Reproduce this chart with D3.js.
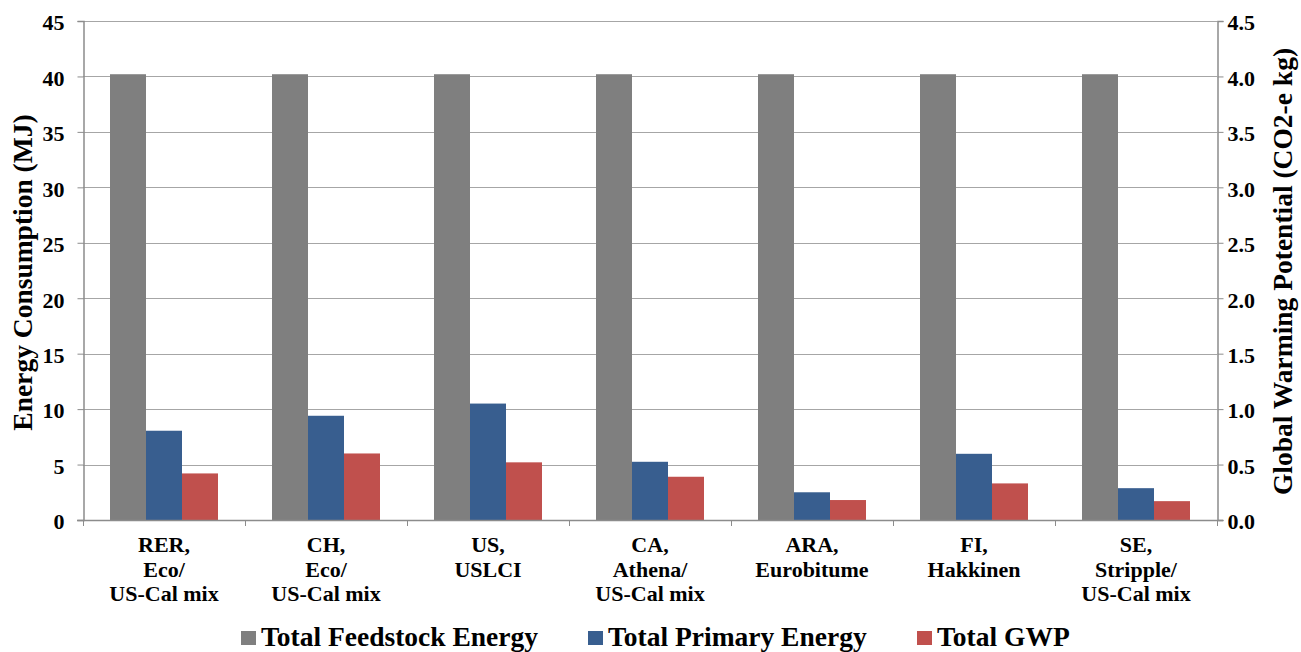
<!DOCTYPE html>
<html>
<head>
<meta charset="utf-8">
<script src="https://cdn.jsdelivr.net/npm/d3@7"></script>
<style>
  html, body { margin: 0; padding: 0; background: #fff; }
  svg { display: block; }
  text { font-family: "Liberation Serif", "Times New Roman", serif !important; font-weight: bold; fill: #000; }
</style>
</head>
<body>
<svg id="chart" width="1301" height="652"></svg>
<script>
// ---- data ----
const categories = [
  ["RER,", "Eco/", "US-Cal mix"],
  ["CH,", "Eco/", "US-Cal mix"],
  ["US,", "USLCI"],
  ["CA,", "Athena/", "US-Cal mix"],
  ["ARA,", "Eurobitume"],
  ["FI,", "Hakkinen"],
  ["SE,", "Stripple/", "US-Cal mix"]
];
const seriesNames = ["Total Feedstock Energy", "Total Primary Energy", "Total GWP"];
const feedstockEnergy = [40.2, 40.2, 40.2, 40.2, 40.2, 40.2, 40.2];   // MJ (left axis)
const primaryEnergy   = [8.05, 9.4, 10.5, 5.25, 2.5, 5.97, 2.87];     // MJ (left axis)
const totalGWP        = [0.42, 0.60, 0.52, 0.39, 0.18, 0.33, 0.17];   // CO2-e kg (right axis)
const leftTicks  = [0, 5, 10, 15, 20, 25, 30, 35, 40, 45];
const rightTicks = [0, 0.5, 1.0, 1.5, 2.0, 2.5, 3.0, 3.5, 4.0, 4.5];
const colors = ["#7f7f7f", "#385e8f", "#c0504d"];

// ---- layout ----
const svg = d3.select("#chart");
const L = 83, R = 1217, T = 21, B = 520;

const x0 = d3.scaleBand().domain(d3.range(categories.length)).range([L, R]).paddingInner(0).paddingOuter(0);
const x1 = d3.scaleBand().domain([0, 1, 2]).range([0, x0.bandwidth()]).paddingInner(0).paddingOuter(0.75);
const yL = d3.scaleLinear().domain([0, 45]).range([B, T]);
const yR = d3.scaleLinear().domain([0, 4.5]).range([B, T]);

// gridlines
svg.append("g").selectAll("line").data(leftTicks.filter(d => d > 0)).join("line")
  .attr("x1", L).attr("x2", R)
  .attr("y1", d => Math.round(yL(d)) + 0.5).attr("y2", d => Math.round(yL(d)) + 0.5)
  .attr("stroke", "#a6a6a6").attr("stroke-width", 1);

// bars
const rows = categories.map((c, i) => [feedstockEnergy[i], primaryEnergy[i], totalGWP[i]]);
const g = svg.append("g");
rows.forEach((vals, i) => {
  vals.forEach((v, s) => {
    const y = s === 2 ? yR(v) : yL(v);
    g.append("rect")
      .attr("x", x0(i) + x1(s))
      .attr("y", y)
      .attr("width", x1.bandwidth())
      .attr("height", B - y)
      .attr("fill", colors[s]);
  });
});

// left axis
const axL = svg.append("g").attr("transform", `translate(${L + 0.5},0)`)
  .call(d3.axisLeft(yL).tickValues(leftTicks).tickSize(6).tickPadding(13).tickFormat(d3.format("d")));
axL.attr("font-family", null);
axL.select(".domain").attr("stroke", "#8c8c8c").attr("stroke-width", 1.5);
axL.selectAll(".tick line").attr("stroke", "#8c8c8c");
axL.selectAll(".tick text").attr("font-size", 22).attr("fill", "#000").attr("dy", "0.4em");

// right axis
const axR = svg.append("g").attr("transform", `translate(${R + 0.5},0)`)
  .call(d3.axisRight(yR).tickValues(rightTicks).tickSize(6).tickPadding(4).tickFormat(d3.format(".1f")));
axR.attr("font-family", null);
axR.select(".domain").attr("stroke", "#8c8c8c").attr("stroke-width", 1.5);
axR.selectAll(".tick line").attr("stroke", "#8c8c8c");
axR.selectAll(".tick text").attr("font-size", 22).attr("fill", "#000").attr("dy", "0.4em");

// bottom axis line + category boundary ticks
svg.append("line").attr("x1", L - 6).attr("x2", R + 6).attr("y1", B + 0.5).attr("y2", B + 0.5)
  .attr("stroke", "#8c8c8c").attr("stroke-width", 1.5);
svg.append("g").selectAll("line").data(d3.range(categories.length + 1)).join("line")
  .attr("x1", d => Math.round(L + d * x0.bandwidth()) + 0.5)
  .attr("x2", d => Math.round(L + d * x0.bandwidth()) + 0.5)
  .attr("y1", B).attr("y2", B + 6)
  .attr("stroke", "#8c8c8c");

// category labels
categories.forEach((lines, i) => {
  const t = svg.append("text")
    .attr("x", x0(i) + x0.bandwidth() / 2)
    .attr("y", 552)
    .attr("text-anchor", "middle")
    .attr("font-size", 22);
  lines.forEach((ln, k) => {
    t.append("tspan").attr("x", x0(i) + x0.bandwidth() / 2).attr("y", 552 + k * 24.5).text(ln);
  });
});

// axis titles
svg.append("text")
  .attr("transform", `translate(32,${(T + B) / 2 + 2}) rotate(-90)`)
  .attr("text-anchor", "middle").attr("font-size", 27.5)
  .text("Energy Consumption (MJ)");
svg.append("text")
  .attr("transform", `translate(1292,${(T + B) / 2 + 1}) rotate(-90)`)
  .attr("text-anchor", "middle").attr("font-size", 27.5)
  .text("Global Warming Potential (CO2-e kg)");

// legend
const legendX = [241, 588, 917];
seriesNames.forEach((name, s) => {
  svg.append("rect").attr("x", legendX[s]).attr("y", 631).attr("width", 15).attr("height", 14).attr("fill", colors[s]);
  svg.append("text").attr("x", legendX[s] + 20).attr("y", 646).attr("font-size", 27.5).text(name);
});
</script>
</body>
</html>
